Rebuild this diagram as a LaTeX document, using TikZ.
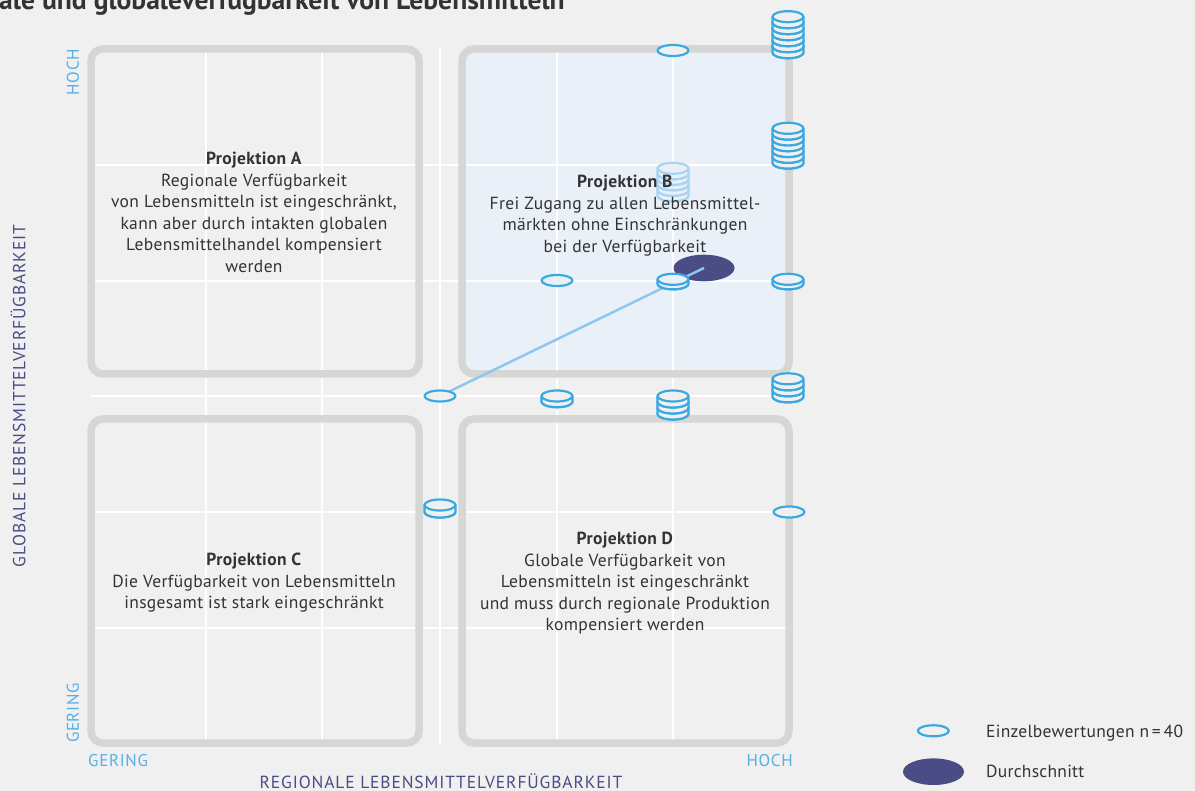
\documentclass[tikz,border=0pt]{standalone}
\usepackage{fontspec}
\setmainfont{PT Sans}
\usetikzlibrary{shapes.geometric}

\definecolor{paper}{HTML}{F0F0F0}
\definecolor{frame}{HTML}{D6D6D4}
\definecolor{paleblue}{HTML}{EAF0F8}
\definecolor{coinblue}{HTML}{3AA9E1}
\definecolor{fadeblue}{HTML}{A9D3F1}
\definecolor{linkblue}{HTML}{8EC7EE}
\definecolor{navy}{HTML}{4A4D85}
\definecolor{axisblue}{HTML}{57B0E5}
\definecolor{ink}{HTML}{333333}

% stack of rating coins: [style] {x}{y of top coin}{count}{spacing}
\newcommand\coinstack[5][]{%
  \foreach \i in {1,...,#4}{%
    \pgfmathsetmacro\cy{#3+(#4-\i)*#5}%
    \ifnum\i>1
      \filldraw[coin,#1] (#2-15.5,\cy) -- (#2-15.5,\cy+#5)
        arc[start angle=180,end angle=0,x radius=15.5,y radius=5.5]
        -- (#2+15.5,\cy) -- cycle;
    \fi
    \filldraw[coin,#1] (#2,\cy) ellipse[x radius=15.5,y radius=5.5];
  }}

\begin{document}
\begin{tikzpicture}[x=1pt,y=-1pt,
  coin/.style={draw=coinblue,fill=paper,line width=2.2pt,line join=round},
  inb/.style={fill=paleblue},
  faded/.style={draw=fadeblue,fill=paleblue},
  grid/.style={draw=white,line width=2pt},
  quad/.style={draw=frame,line width=7.5pt,rounded corners=12pt},
  link/.style={draw=linkblue,line width=2.5pt},
  avgmark/.style={ellipse,fill=navy,inner sep=0pt,minimum width=61pt,minimum height=26.6pt},
  body/.style={font=\fontsize{17.5}{21.5}\selectfont\addfontfeature{LetterSpace=2},text=ink,align=center,inner sep=0pt},
  level/.style={font=\fontsize{17}{18}\selectfont\addfontfeature{LetterSpace=4},text=axisblue,inner sep=0pt},
  axis/.style={font=\fontsize{17.5}{18}\selectfont\addfontfeature{LetterSpace=5},text=navy,inner sep=0pt},
  legend/.style={font=\fontsize{17.5}{18}\selectfont\addfontfeature{LetterSpace=1.5},text=ink,inner sep=0pt},
  heading/.style={font=\fontsize{27.6}{30}\selectfont\bfseries,text=ink,inner sep=0pt}]
\useasboundingbox (0,0) rectangle (1195,791);
\clip (0,0) rectangle (1195,791);
\fill[paper] (0,0) rectangle (1195,791);

% heading, cut by the top edge
\node[heading,anchor=base west] (title) at (-1,9.5) {ale und globaleverfügbarkeit von Lebensmitteln};

% tinted quadrant B
\fill[paleblue,rounded corners=12pt] (462,49) rectangle (789,374);

% white scale grid
\foreach \gx in {206,322,440,557,673} \draw[grid] (\gx,49) -- (\gx,743);
\foreach \gy in {165,281,396,512,628} \draw[grid] (91,\gy) -- (789,\gy);

% quadrant frames
\draw[quad] (91,49) rectangle (419,374);
\draw[quad] (462,49) rectangle (789,374);
\draw[quad] (91,419) rectangle (419,743);
\draw[quad] (462,419) rectangle (789,743);

% average and its offset from the lowest single rating
\coordinate (r1) at (440,396);
\node[avgmark] (avg) at (704,268) {};
\draw[link] (r1) -- (avg.center);

% individual ratings
\coinstack{673}{50.5}{1}{6}
\coinstack{788}{16.7}{7}{6}
\coinstack{788}{128.3}{7}{5.8}
\coinstack[faded]{673}{168.3}{6}{5.5}
\coinstack[inb]{557}{280.5}{1}{6}
\coinstack[inb]{673}{279.3}{2}{4.5}
\coinstack{788}{279.3}{2}{4.5}
\coinstack{440}{396}{1}{6}
\coinstack{557}{396}{2}{5.7}
\coinstack{673}{396}{4}{6}
\coinstack{788}{378.8}{4}{6}
\coinstack{440}{505}{2}{7}
\coinstack{789}{512}{1}{6}

% quadrant descriptions
\node[body,anchor=north] (qa) at (254,152) {\textbf{Projektion A}\\Regionale Verfügbarkeit\\von Lebensmitteln ist eingeschränkt,\\kann aber durch intakten globalen\\Lebensmittelhandel kompensiert\\werden};
\node[body,anchor=north] (qb) at (625,175) {\textbf{Projektion B}\\Frei Zugang zu allen Lebensmittel-\\märkten ohne Einschränkungen\\bei der Verfügbarkeit};
\node[body,anchor=north] (qc) at (254,553) {\textbf{Projektion C}\\Die Verfügbarkeit von Lebensmitteln\\insgesamt ist stark eingeschränkt};
\node[body,anchor=north] (qd) at (625,532) {\textbf{Projektion D}\\Globale Verfügbarkeit von\\Lebensmitteln ist eingeschränkt\\und muss durch regionale Produktion\\kompensiert werden};

% scale ends and axis titles
\node[level,rotate=90] (yhigh) at (73,72) {HOCH};
\node[level,rotate=90] (ylow) at (73,713) {GERING};
\node[level,anchor=base west] (xlow) at (88,766) {GERING};
\node[level,anchor=base east] (xhigh) at (793,766) {HOCH};
\node[axis,anchor=base] (xaxis) at (441,788) {REGIONALE LEBENSMITTELVERFÜGBARKEIT};
\node[axis,rotate=90] (yaxis) at (18,396) {GLOBALE LEBENSMITTELVERFÜGBARKEIT};

% legend
\coinstack{933.3}{730.8}{1}{6}
\node[legend,anchor=base west] (key1) at (986,737) {Einzelbewertungen n\,=\,40};
\node[avgmark] (avgkey) at (933.5,771.7) {};
\node[legend,anchor=base west] (key2) at (986,777) {Durchschnitt};
\end{tikzpicture}
\end{document}
